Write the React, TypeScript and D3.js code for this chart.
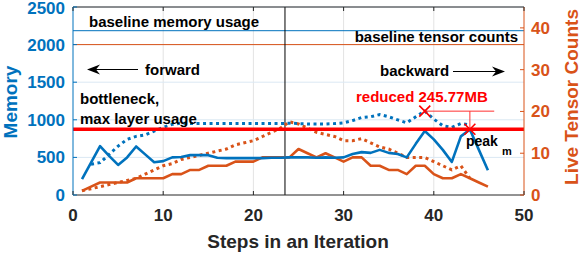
import React from "react";
import * as d3 from "d3";

const memSteps = d3.range(1, 47);
const memActual = [210, 430, 650, 520, 400, 500, 645, 540, 435, 450, 500, 505, 530, 530, 530, 495, 490, 490, 490, 490, 490, 495, 495, 500, 500, 500, 495, 500, 495, 500, 545, 570, 560, 600, 560, 545, 500, 680, 850, 740, 600, 440, 780, 870, 600, 330];

const memDotSteps = d3.range(2, 45);
const memDotted = [410, 430, 540, 650, 740, 780, 800, 850, 900, 940, 955, 950, 950, 950, 950, 950, 950, 950, 950, 950, 950, 950, 955, 950, 945, 945, 945, 950, 960, 990, 1030, 1040, 1070, 1040, 1000, 960, 1040, 1115, 1010, 920, 900, 950, 930];

const cntSteps = d3.range(1, 47);
const cntActual = [1, 2, 3, 3, 3, 3, 4, 4, 4, 4, 5, 5, 6, 6, 7, 7, 7, 8, 8, 8, 9, 9, 9, 9, 11, 10, 9, 10, 9, 8, 9, 9, 7, 7, 6, 6, 5, 7, 7, 5, 4, 4, 5, 4, 3, 2];

const cntDotSteps = d3.range(1, 45);
const cntDotted = [1, 1.5, 2, 2.5, 3, 3.5, 4, 5, 6, 7, 7.5, 8.5, 9, 9.5, 10, 10.5, 11, 12, 12.5, 13, 14, 15, 16, 17.5, 17, 16, 15, 14.5, 14, 13, 13, 13.5, 12.5, 11.5, 11, 10, 9, 9, 9, 8, 7, 6, 7, 4];

const xTicks = [0, 10, 20, 30, 40, 50];
const memTicks = [0, 500, 1000, 1500, 2000, 2500];
const cntTicks = [0, 10, 20, 30, 40];

const baselineMemory = 2185;
const baselineCounts = 36;
const bottleneck = 874;
const phaseSplit = 23.5;
const reducedPoint = { step: 39, mem: 1115 };
const peakPoint = { step: 44, mem: 874 };

const BLUE = "#0072BD";
const ORANGE = "#D95319";
const RED = "#FF0000";
const FONT = "'Liberation Sans', Arial, Helvetica, sans-serif";

export default function App() {
  const L = 73, R = 524, T = 7, B = 195;
  const x = d3.scaleLinear().domain([0, 50]).range([L, R]);
  const yM = d3.scaleLinear().domain([0, 2500]).range([B, T]);
  const yC = d3.scaleLinear().domain([0, 45]).range([B, T]);

  const lineM = d3.line<[number, number]>().x(d => x(d[0])).y(d => yM(d[1]));
  const lineC = d3.line<[number, number]>().x(d => x(d[0])).y(d => yC(d[1]));

  const memActualPath = lineM(memSteps.map((s, i) => [s, memActual[i]]))!;
  const memDottedPath = lineM(memDotSteps.map((s, i) => [s, memDotted[i]]))!;
  const cntActualPath = lineC(cntSteps.map((s, i) => [s, cntActual[i]]))!;
  const cntDottedPath = lineC(cntDotSteps.map((s, i) => [s, cntDotted[i]]))!;

  const cross = (cx: number, cy: number, r: number) =>
    `M${cx - r},${cy - r}L${cx + r},${cy + r}M${cx - r},${cy + r}L${cx + r},${cy - r}`;

  const rx = x(reducedPoint.step), ry = yM(reducedPoint.mem);
  const px = x(peakPoint.step), py = yM(peakPoint.mem);

  return (
    <svg width={581} height={255} style={{ position: "absolute", left: 0, top: 0, display: "block", background: "#fff" }} fontFamily={FONT}>
      <rect x={0} y={0} width={581} height={255} fill="#fff" />
      {/* grid */}
      {xTicks.slice(1, -1).map(t => (
        <line key={"gx" + t} x1={x(t)} x2={x(t)} y1={T} y2={B} stroke="#e3e3e3" strokeWidth={1} />
      ))}
      {memTicks.slice(1).map(t => (
        <line key={"gy" + t} x1={L} x2={R} y1={yM(t)} y2={yM(t)} stroke="#dbe8f3" strokeWidth={1} />
      ))}

      {/* baselines */}
      <line x1={L} x2={R} y1={yM(baselineMemory)} y2={yM(baselineMemory)} stroke={BLUE} strokeWidth={1} />
      <line x1={L} x2={R} y1={yC(baselineCounts)} y2={yC(baselineCounts)} stroke={ORANGE} strokeWidth={1} />

      {/* phase split */}
      <line x1={x(phaseSplit)} x2={x(phaseSplit)} y1={T} y2={B} stroke="#000" strokeWidth={1} />

      {/* series */}
      <path d={cntDottedPath} fill="none" stroke={ORANGE} strokeWidth={3} strokeDasharray="3 3.5" />
      <path d={memDottedPath} fill="none" stroke={BLUE} strokeWidth={3} strokeDasharray="3 3.5" />
      <path d={cntActualPath} fill="none" stroke={ORANGE} strokeWidth={2.6} strokeLinejoin="round" />
      <path d={memActualPath} fill="none" stroke={BLUE} strokeWidth={2.6} strokeLinejoin="round" />

      {/* bottleneck line */}
      <line x1={L} x2={R} y1={yM(bottleneck)} y2={yM(bottleneck)} stroke={RED} strokeWidth={3.5} />

      {/* reduced annotation */}
      <line x1={rx} x2={x(46.7)} y1={ry} y2={ry} stroke="#ff3030" strokeWidth={1} />
      <line x1={px} x2={px} y1={ry} y2={py} stroke="#ff3030" strokeWidth={1} />
      <path d={cross(rx, ry, 5.5)} stroke={RED} strokeWidth={1.6} fill="none" />
      <path d={cross(px, py, 5.5)} stroke={RED} strokeWidth={1.6} fill="none" />

      {/* axes box */}
      <line x1={L} x2={R} y1={T} y2={T} stroke="#262626" strokeWidth={1} />
      <line x1={L} x2={R} y1={B} y2={B} stroke="#262626" strokeWidth={1} />
      <line x1={L} x2={L} y1={T} y2={B} stroke={BLUE} strokeWidth={1} />
      <line x1={R} x2={R} y1={T} y2={B} stroke={ORANGE} strokeWidth={1} />

      {/* x ticks */}
      {xTicks.map(t => (
        <g key={"xt" + t}>
          <line x1={x(t)} x2={x(t)} y1={B} y2={B - 4} stroke="#262626" strokeWidth={1} />
          <line x1={x(t)} x2={x(t)} y1={T} y2={T + 4} stroke="#262626" strokeWidth={1} />
          <text x={x(t)} y={221} textAnchor="middle" fontSize={17} fontWeight="bold" fill="#262626">{t}</text>
        </g>
      ))}
      {/* left ticks */}
      {memTicks.map(t => (
        <g key={"ml" + t}>
          <line x1={L} x2={L + 4} y1={yM(t)} y2={yM(t)} stroke={BLUE} strokeWidth={1} />
          <text x={65} y={Math.max(yM(t) + 6, 14)} textAnchor="end" fontSize={17} fontWeight="bold" fill={BLUE}>{t}</text>
        </g>
      ))}
      {/* right ticks */}
      {cntTicks.map(t => (
        <g key={"cr" + t}>
          <line x1={R} x2={R - 4} y1={yC(t)} y2={yC(t)} stroke={ORANGE} strokeWidth={1} />
          <text x={531} y={yC(t) + 6} textAnchor="start" fontSize={17} fontWeight="bold" fill={ORANGE}>{t}</text>
        </g>
      ))}

      {/* axis titles */}
      <text transform="translate(17,102) rotate(-90)" textAnchor="middle" fontSize={19} fontWeight="bold" fill={BLUE}>Memory</text>
      <text transform="translate(578,97) rotate(-90)" textAnchor="middle" fontSize={19} fontWeight="bold" fill={ORANGE}>Live Tensor Counts</text>
      <text x={298} y={248} textAnchor="middle" fontSize={19} fontWeight="bold" fill="#262626">Steps in an Iteration</text>

      {/* annotations */}
      <text x={89} y={26.5} fontSize={15} fontWeight="bold" fill="#000">baseline memory usage</text>
      <text x={518} y={41.5} textAnchor="end" fontSize={15} fontWeight="bold" fill="#000">baseline tensor counts</text>

      <line x1={138} x2={95} y1={69.5} y2={69.5} stroke="#000" strokeWidth={1} />
      <path d="M87,69.5 L100,64.5 L96,69.5 L100,74.5 Z" fill="#000" />
      <text x={145} y={74.5} fontSize={15} fontWeight="bold" fill="#000">forward</text>

      <text x={380} y={76} fontSize={15} fontWeight="bold" fill="#000">backward</text>
      <line x1={453} x2={497} y1={71.5} y2={71.5} stroke="#000" strokeWidth={1} />
      <path d="M505,71.5 L492,66.5 L496,71.5 L492,76.5 Z" fill="#000" />

      <text x={80} y={103.5} fontSize={15} fontWeight="bold" fill="#000">bottleneck,</text>
      <text x={80} y={123.5} fontSize={15} fontWeight="bold" fill="#000">max layer usage</text>

      <text x={356} y={102} fontSize={15} fontWeight="bold" fill={RED}>reduced 245.77MB</text>
      <text x={466} y={146} fontSize={14} fontWeight="bold" fill="#000">peak</text>
      <text x={502} y={154.5} fontSize={11} fontWeight="bold" fill="#000">m</text>
    </svg>
  );
}
